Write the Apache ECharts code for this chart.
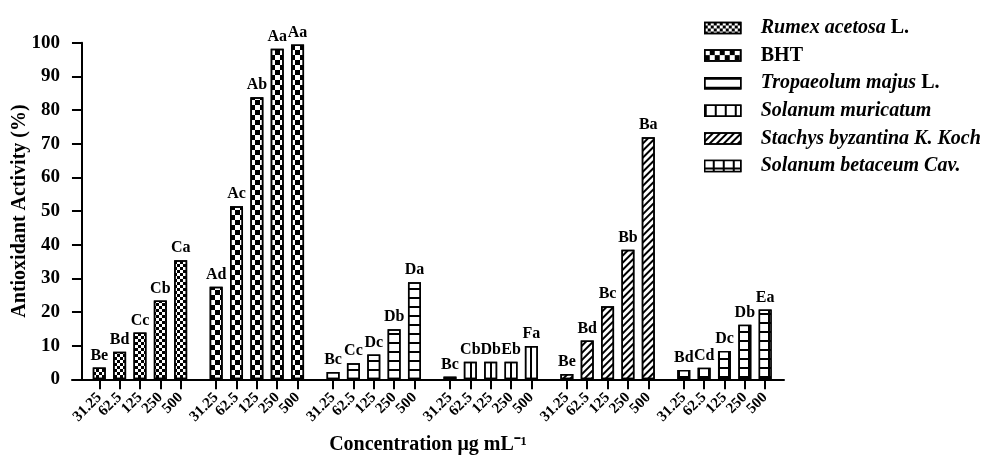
<!DOCTYPE html>
<html><head><meta charset="utf-8">
<script src="https://cdn.jsdelivr.net/npm/echarts@6/dist/echarts.min.js"></script>
<style>html,body{margin:0;padding:0;background:#fff}#c{width:986px;height:458px}</style>
</head><body><div id="c"></div>
<script>
// ---- data ----
const concentrations = ['31.25', '62.5', '125', '250', '500'];
const seriesNames = ['Rumex acetosa L.', 'BHT', 'Tropaeolum majus L.', 'Solanum muricatum', 'Stachys byzantina K. Koch', 'Solanum betaceum Cav.'];
const rumexValues = [3.5, 8.2, 13.9, 23.4, 35.4];
const bhtValues = [27.5, 51.4, 83.8, 98.2, 99.5];
const tropaeolumValues = [2.2, 4.8, 7.4, 14.9, 28.8];
const muricatumValues = [0.8, 5.2, 5.2, 5.2, 9.9];
const stachysValues = [1.6, 11.5, 21.7, 38.5, 71.9];
const betaceumValues = [2.8, 3.4, 8.4, 16.2, 20.7];
const rumexLetters = ['Be', 'Bd', 'Cc', 'Cb', 'Ca'];
const bhtLetters = ['Ad', 'Ac', 'Ab', 'Aa', 'Aa'];
const tropaeolumLetters = ['Bc', 'Cc', 'Dc', 'Db', 'Da'];
const muricatumLetters = ['Bc', 'Cb', 'Db', 'Eb', 'Fa'];
const stachysLetters = ['Be', 'Bd', 'Bc', 'Bb', 'Ba'];
const betaceumLetters = ['Bd', 'Cd', 'Dc', 'Db', 'Ea'];
const yTickMax = 100;
const yTickStep = 10;

// ---- layout helpers ----
const FONT = '"Liberation Serif", "Times New Roman", serif';
const allValues = [rumexValues, bhtValues, tropaeolumValues, muricatumValues, stachysValues, betaceumValues];
const allLetters = [rumexLetters, bhtLetters, tropaeolumLetters, muricatumLetters, stachysLetters, betaceumLetters];
const START = 0.85, GROUP = 5.745;
const X_MIN = -0.49, X_MAX = 34.5;
const slot = (g, i) => START + g * GROUP + i;
const tickPositions = [];
allValues.forEach((v, g) => v.forEach((_, i) => tickPositions.push(slot(g, i))));
// hidden placeholders at both axis ends (absorb the min/max-label overlap rule)
const axisMarks = [X_MIN].concat(tickPositions, [X_MAX]);

const decals = [
  { symbol: 'rect', symbolSize: 1, color: '#000', dashArrayX: [[3, 3], [0, 3, 3, 0]], dashArrayY: [3, 0] },
  { symbol: 'rect', symbolSize: 1, color: '#000', dashArrayX: [[5, 5], [0, 5, 5, 0]], dashArrayY: [5, 0] },
  { symbol: 'rect', symbolSize: 1, color: '#000', dashArrayX: [5, 0], dashArrayY: [2, 7] },
  { symbol: 'rect', symbolSize: 1, color: '#000', dashArrayX: [2, 8], dashArrayY: [5, 0] },
  { symbol: 'rect', symbolSize: 1, color: '#000', dashArrayX: [5, 0], dashArrayY: [2, 3], rotation: -Math.PI / 4 },
  { symbol: 'rect', symbolSize: 1, color: '#fff', dashArrayX: [8, 2], dashArrayY: [7, 2] }
];
const fills = ['#fff', '#fff', '#fff', '#fff', '#fff', '#000'];

const series = allValues.map((vals, g) => ({
  name: seriesNames[g],
  type: 'bar',
  barWidth: 13,
  barGap: '-100%',
  data: vals.map((v, i) => [slot(g, i), v]),
  itemStyle: { color: fills[g], borderColor: '#000', borderWidth: 1.5, decal: decals[g] },
  label: {
    show: true, position: 'top', distance: 4,
    fontFamily: FONT, fontWeight: 'bold', fontSize: 16, color: '#000',
    formatter: p => allLetters[g][p.dataIndex]
  },
  emphasis: { disabled: true }
}));

const chart = echarts.init(document.getElementById('c'), null, { renderer: 'canvas' });
chart.setOption({
  animation: false,
  backgroundColor: '#fff',
  grid: { left: 72, right: 202, top: 42.7, bottom: 78.7, containLabel: false, outerBoundsMode: 'none' },
  legend: {
    orient: 'vertical', left: 699, top: 13,
    itemWidth: 36, itemHeight: 11, itemGap: 7.6, icon: 'rect',
    data: seriesNames,
    itemStyle: { borderColor: '#000', borderWidth: 1.5 },
    textStyle: {
      fontFamily: FONT, fontSize: 20, fontWeight: 'bold', color: '#000', lineHeight: 20,
      padding: [0, 0, 0, 15],
      rich: {
        i: { fontFamily: FONT, fontSize: 20, fontWeight: 'bold', fontStyle: 'italic', color: '#000', lineHeight: 20 },
        n: { fontFamily: FONT, fontSize: 20, fontWeight: 'bold', color: '#000', lineHeight: 20 }
      }
    },
    formatter: name => {
      if (name === 'BHT') return '{n|BHT}';
      if (name.endsWith(' L.')) return '{i|' + name.slice(0, -3) + '}{n| L.}';
      return '{i|' + name + '}';
    }
  },
  xAxis: {
    type: 'value', min: X_MIN, max: X_MAX,
    splitLine: { show: false },
    axisLine: { onZero: true, lineStyle: { color: '#000', width: 2 } },
    axisTick: { show: true, customValues: axisMarks, length: 10, lineStyle: { color: '#000', width: 2 } },
    axisLabel: {
      customValues: axisMarks, rotate: 45, margin: 16,
      showMinLabel: false, showMaxLabel: false, hideOverlap: false,
      fontFamily: FONT, fontWeight: 'bold', fontSize: 15, color: '#000',
      formatter: v => {
        let best = 0;
        tickPositions.forEach((p, k) => { if (Math.abs(p - v) < Math.abs(tickPositions[best] - v)) best = k; });
        if (Math.abs(tickPositions[best] - v) > 0.2) return '';
        return concentrations[best % concentrations.length];
      }
    },
    name: 'Concentration μg mL⁻¹', nameLocation: 'middle', nameGap: 56, nameMoveOverlap: false,
    nameTextStyle: { fontFamily: FONT, fontWeight: 'bold', fontSize: 20, color: '#000' }
  },
  yAxis: {
    type: 'value', min: 0, max: yTickMax, interval: yTickStep,
    splitLine: { show: false },
    axisLine: { show: true, onZero: true, lineStyle: { color: '#000', width: 2 } },
    axisTick: { show: true, length: 10, lineStyle: { color: '#000', width: 2 } },
    axisLabel: { margin: 12, fontFamily: FONT, fontWeight: 'bold', fontSize: 19, color: '#000' },
    name: 'Antioxidant Activity (%)', nameLocation: 'middle', nameGap: 42, nameRotate: 90, nameMoveOverlap: false,
    nameTextStyle: { fontFamily: FONT, fontWeight: 'bold', fontSize: 20, color: '#000' }
  },
  series
});
</script></body></html>
